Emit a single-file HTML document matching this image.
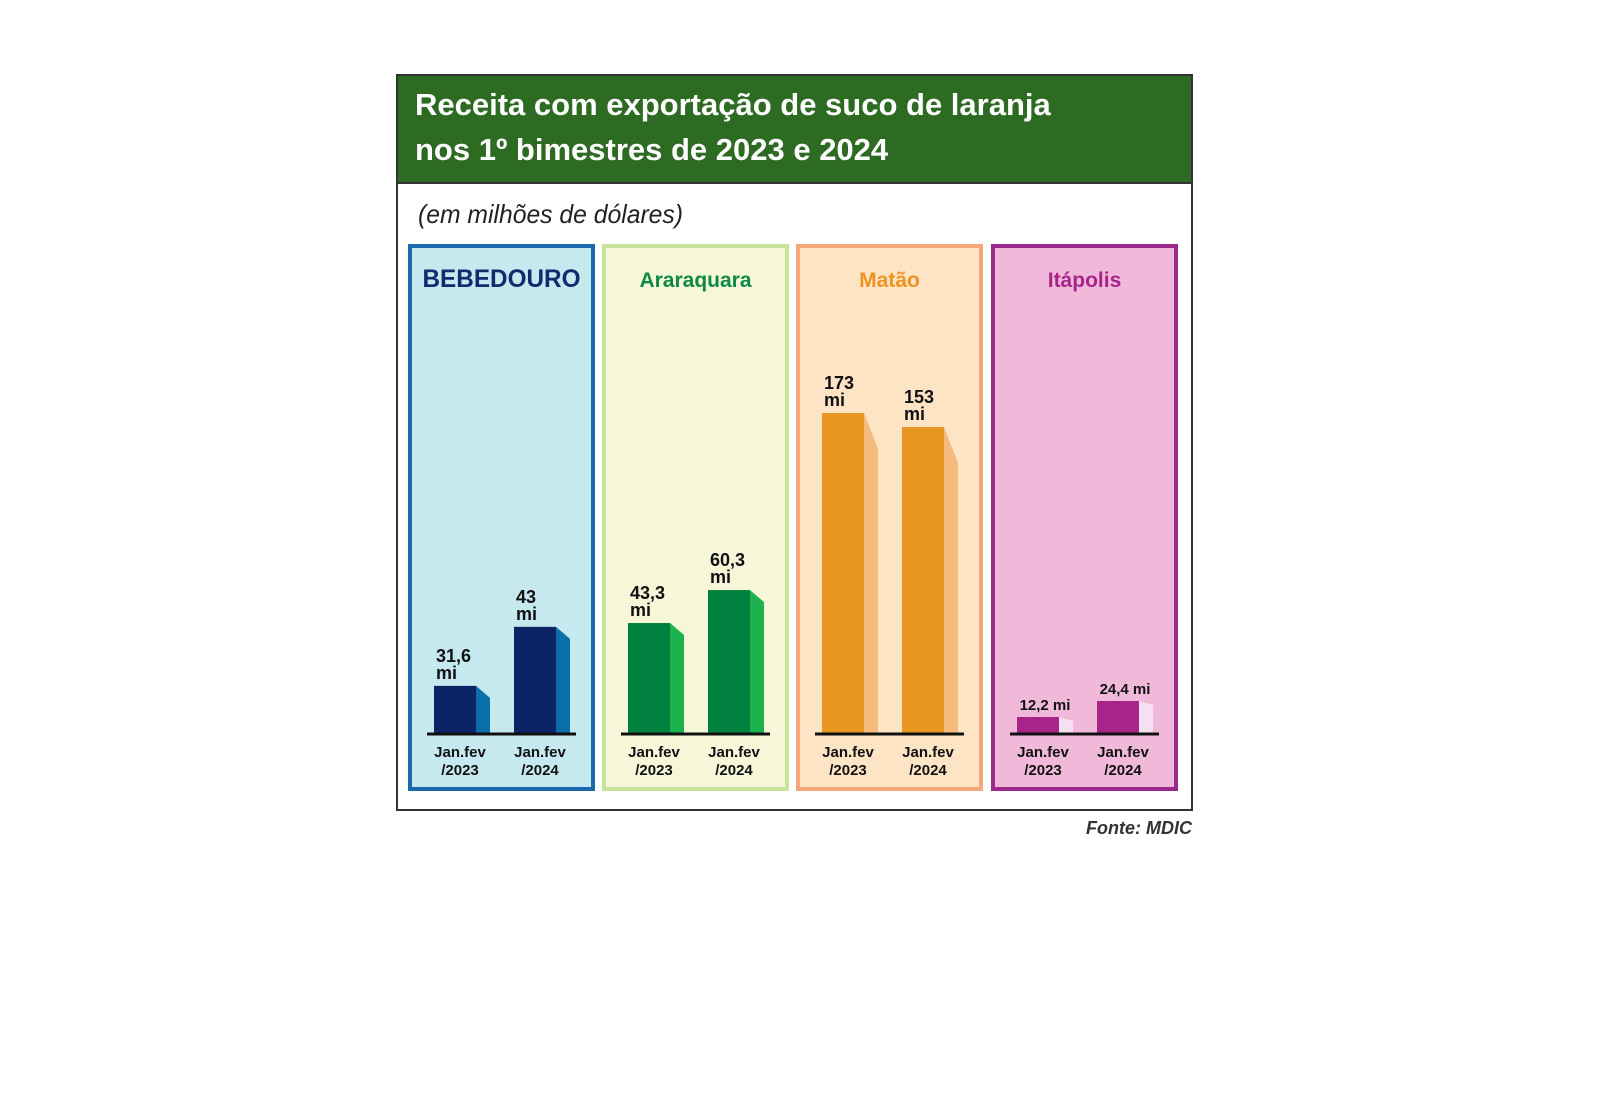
<!DOCTYPE html>
<html><head><meta charset="utf-8">
<style>
body{margin:0;background:#fff;width:1600px;height:1098px;overflow:hidden;font-family:"Liberation Sans",sans-serif;}
svg text{font-family:"Liberation Sans",sans-serif;}
</style></head>
<body>
<svg id="chart" width="1600" height="1098" xmlns="http://www.w3.org/2000/svg">
  <rect x="397" y="75" width="795" height="735" fill="#fff" stroke="#333" stroke-width="2"/>
  <rect x="397" y="75" width="795" height="108" fill="#2d6a22" stroke="#333" stroke-width="2"/>
  <text x="415" y="115" font-size="31" font-weight="bold" fill="#fff">Receita com exportação de suco de laranja</text>
  <text x="415" y="160" font-size="31" font-weight="bold" fill="#fff">nos 1º bimestres de 2023 e 2024</text>
  <text x="418" y="223" font-size="26" font-style="italic" fill="#222" textLength="265" lengthAdjust="spacingAndGlyphs">(em milhões de dólares)</text>
  <text x="1192" y="834" font-size="18" font-style="italic" font-weight="bold" fill="#333" text-anchor="end" font-family="Liberation Serif">Fonte: MDIC</text>
  <g id="panels"></g>
</svg>
<script>
const cities = ["BEBEDOURO","Araraquara","Matão","Itápolis"];
const categories = ["Jan.fev/2023","Jan.fev/2024"];
const values2023 = [31.6, 43.3, 173, 12.2];
const values2024 = [43, 60.3, 153, 24.4];
const valueLabels2023 = ["31,6","43,3","173","12,2"];
const valueLabels2024 = ["43","60,3","153","24,4"];
const domainMin = [22.5, -13.4, -284, 0];
const domainMax = [84.3, 151.6, 173, 244];

const NS="http://www.w3.org/2000/svg";
const styles=[
 {bg:"#c6e8ef",border:"#1b69ad",title:"#122a6e",front:"#0b2466",side:"#0a70aa",drop:12,condensed:true,single:false},
 {bg:"#f6f6d9",border:"#c8e39b",title:"#0f8a45",front:"#00803e",side:"#1cb24e",drop:12,single:false},
 {bg:"#fde4c5",border:"#f5a67a",title:"#ee9322",front:"#e8961f",side:"#f5ba7c",drop:36,single:false},
 {bg:"#f1b9d9",border:"#9b2a8c",title:"#a8238a",front:"#a8238a",side:"#f3e0f0",drop:4,single:true}
];
const panelX=[410,604,798,993], panelW=183, panelTop=246, panelBot=789, baseY=733, plotH=320;
const barOff=[24,104], barW=42, sideW=14;
function yScale(i,v){return baseY-(v-domainMin[i])/(domainMax[i]-domainMin[i])*plotH;}
const g=document.getElementById('panels');
function el(tag,attrs){const e=document.createElementNS(NS,tag);for(const k in attrs)e.setAttribute(k,attrs[k]);return e;}
cities.forEach((c,i)=>{
  const s=styles[i],px=panelX[i];
  const pg=el('g',{});
  
  
  const r=el('rect',{x:px,y:panelTop,width:panelW,height:panelBot-panelTop,fill:s.bg,stroke:s.border,'stroke-width':4});
  
  
  pg.appendChild(r);
  const t=el('text',{x:px+panelW/2,y:287,'font-size':i===0?25:21,'font-weight':'bold',fill:s.title,'text-anchor':'middle'});
  if(i===0){t.setAttribute('textLength','158');t.setAttribute('lengthAdjust','spacingAndGlyphs');}
  t.textContent=c;
  
  
  pg.appendChild(t);
  [values2023[i],values2024[i]].forEach((v,j)=>{
    const bx=px+barOff[j], top=yScale(i,v);
    const side=el('polygon',{points:`${bx+barW},${top} ${bx+barW+sideW},${top+s.drop} ${bx+barW+sideW},${baseY} ${bx+barW},${baseY}`,fill:s.side});
    
    
    pg.appendChild(side);
    const b=el('rect',{x:bx,y:top,width:barW,height:baseY-top,fill:s.front});
    
    
    pg.appendChild(b);
    const lbl=j?valueLabels2024[i]:valueLabels2023[i];
    if(s.single){
      const vt=el('text',{x:bx+(barW+sideW)/2,y:top-7,'font-size':15,'font-weight':'bold',fill:'#111','text-anchor':'middle'});
      vt.textContent=lbl+' mi';
      
      
      pg.appendChild(vt);
    } else {
      const vt=el('text',{x:bx+2,y:top-24,'font-size':18,'font-weight':'bold',fill:'#111'});
      vt.textContent=lbl;
      
      
      pg.appendChild(vt);
      const mt=el('text',{x:bx+2,y:top-7,'font-size':18,'font-weight':'bold',fill:'#111'});
      mt.textContent='mi';
      
      
      pg.appendChild(mt);
    }
    const parts=categories[j].split('/');
    const cx=bx+(barW+sideW)/2-2;
    const c1=el('text',{x:cx,y:757,'font-size':15,'font-weight':'bold',fill:'#111','text-anchor':'middle'});
    c1.textContent=parts[0];
    
    
    pg.appendChild(c1);
    const c2=el('text',{x:cx,y:775,'font-size':15,'font-weight':'bold',fill:'#111','text-anchor':'middle'});
    c2.textContent='/'+parts[1];
    
    
    pg.appendChild(c2);
  });
  const ax=el('line',{x1:px+17,x2:px+166,y1:baseY+1,y2:baseY+1,stroke:'#111','stroke-width':3});
  
  
  pg.appendChild(ax);
  g.appendChild(pg);
});
</script>
</body></html>
